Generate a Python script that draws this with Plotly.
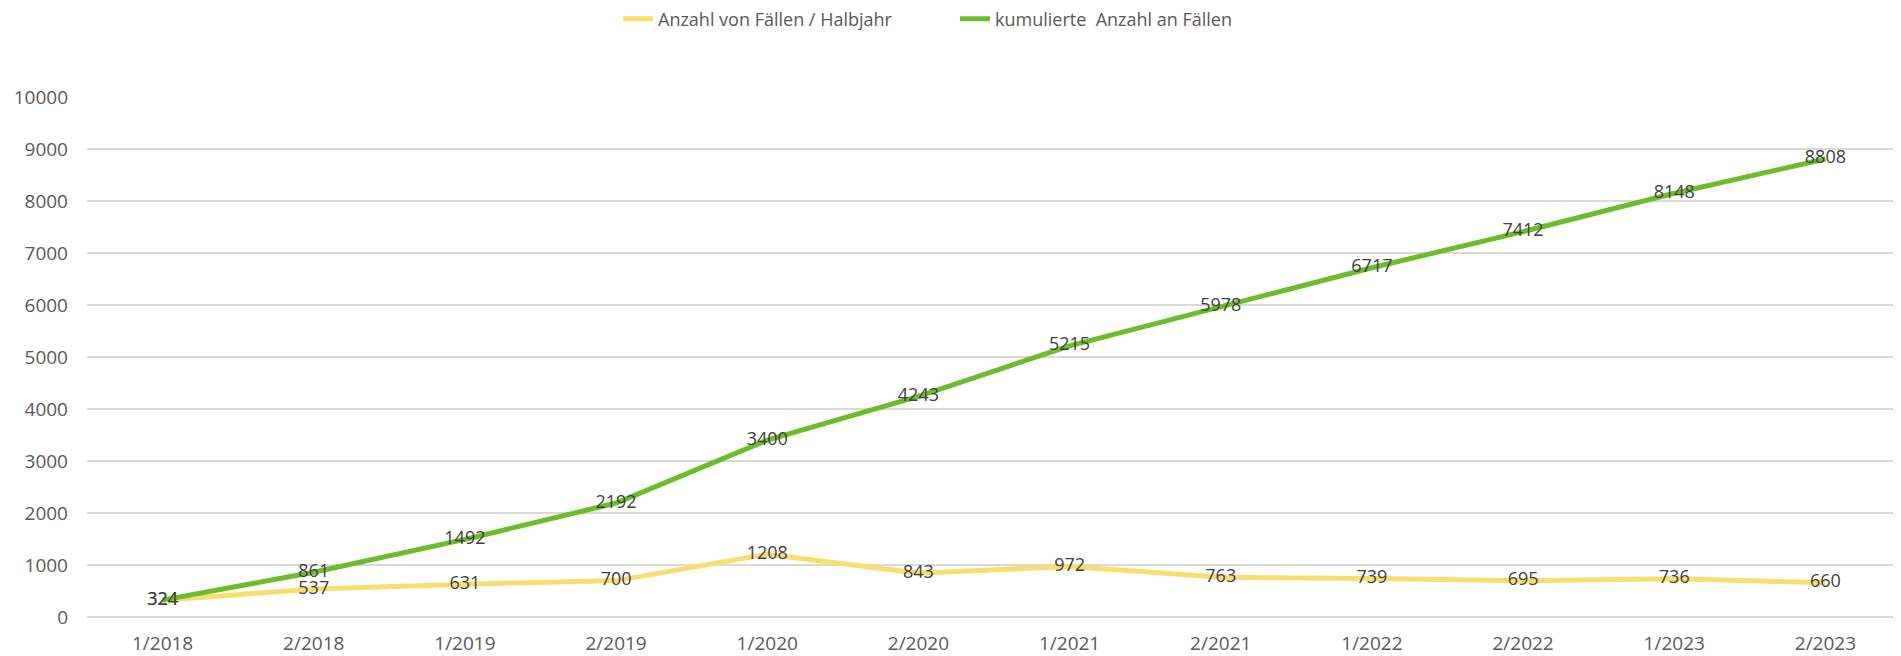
import plotly.graph_objects as go

categories = ["1/2018", "2/2018", "1/2019", "2/2019", "1/2020", "2/2020",
              "1/2021", "2/2021", "1/2022", "2/2022", "1/2023", "2/2023"]
halbjahr = [324, 537, 631, 700, 1208, 843, 972, 763, 739, 695, 736, 660]
kumuliert = [324, 861, 1492, 2192, 3400, 4243, 5215, 5978, 6717, 7412, 8148, 8808]
y_ticks = [0, 1000, 2000, 3000, 4000, 5000, 6000, 7000, 8000, 9000, 10000]

FONT = "Open Sans"
# page has an 8px body margin; compensate
W, H = 1893, 648
ML, MR, MT, MB = 79, 0, 89, 39
plot_w = W - ML - MR
plot_h = H - MT - MB

fig = go.Figure()
fig.add_trace(go.Scatter(
    x=categories, y=halbjahr, name="Anzahl von Fällen / Halbjahr",
    mode="lines+text", text=[str(v) for v in halbjahr], textposition="middle center",
    textfont=dict(family=FONT, size=18, color="#404040"),
    line=dict(color="#F9DE6E", width=5), cliponaxis=False,
))
fig.add_trace(go.Scatter(
    x=categories, y=kumuliert, name="kumulierte\u00a0 Anzahl an Fällen",
    mode="lines+text", text=[str(v) for v in kumuliert], textposition="middle center",
    textfont=dict(family=FONT, size=18, color="#404040"),
    line=dict(color="#6BBE27", width=5), cliponaxis=False,
))

fig.update_layout(
    width=W, height=H,
    margin=dict(l=ML, r=MR, t=MT, b=MB, pad=0, autoexpand=False),
    paper_bgcolor="white", plot_bgcolor="white",
    font=dict(family=FONT, color="#595959"),
    showlegend=True,
    legend=dict(
        orientation="h", x=(610 - ML) / plot_w, xanchor="left",
        y=1 + (MT - 11) / plot_h, yanchor="middle",
        font=dict(family=FONT, size=18, color="#595959"),
        itemwidth=30, entrywidth=292, bgcolor="rgba(0,0,0,0)",
    ),
    xaxis=dict(
        type="category", categoryorder="array", categoryarray=categories,
        range=[-0.5, len(categories) - 0.5],
        showgrid=False, showline=False, zeroline=False,
        tickfont=dict(family=FONT, size=19, color="#595959"),
        ticklabelstandoff=13, fixedrange=True,
    ),
    yaxis=dict(
        range=[0, 10000], tickvals=y_ticks, ticktext=[str(v) for v in y_ticks],
        showgrid=True, gridcolor="#D9D9D9", gridwidth=1.5,
        zeroline=True, zerolinecolor="#D9D9D9", zerolinewidth=1.5,
        showline=False,
        tickfont=dict(family=FONT, size=19, color="#595959"),
        ticklabelstandoff=18, fixedrange=True,
    ),
)

fig.write_html("out.html")
